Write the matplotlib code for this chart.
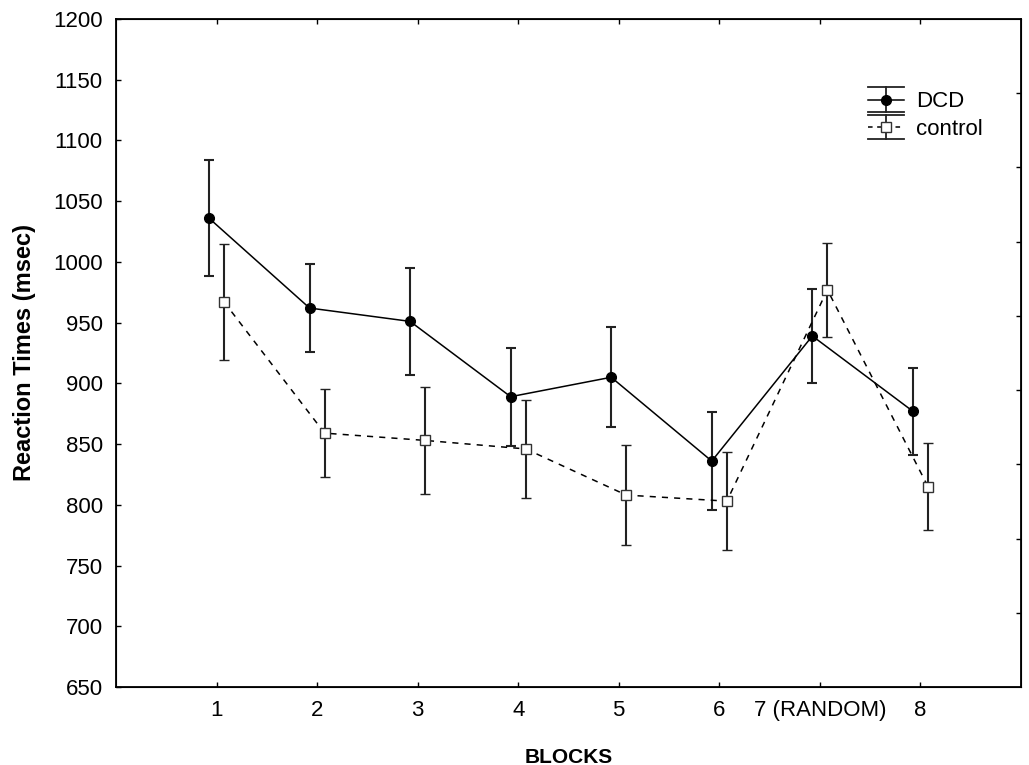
import numpy as np
import matplotlib
matplotlib.use("Agg")
import matplotlib.pyplot as plt
from matplotlib.lines import Line2D
from matplotlib.legend_handler import HandlerBase

plt.rcParams['font.family'] = ['Liberation Sans', 'DejaVu Sans']

# values
blocks = [1, 2, 3, 4, 5, 6, 7, 8]
block_labels = ["1", "2", "3", "4", "5", "6", "7 (RANDOM)", "8"]
dcd_mean = [1036, 962, 951, 889, 905, 836, 939, 877]
dcd_err = [48, 36.5, 44, 40.5, 41, 40.5, 38.5, 36]
control_mean = [967, 859, 853, 846, 808, 803, 977, 815]
control_err = [48, 36.5, 44, 40, 41, 40.5, 38.5, 36]


class ErrorbarKey(HandlerBase):
    # Statistica-like key: wide caps above/below, line + marker in the middle
    def __init__(self, ls, marker, mfc, mec):
        super().__init__()
        self.ls = ls
        self.marker = marker
        self.mfc = mfc
        self.mec = mec

    def create_artists(self, legend, orig_handle, xdescent, ydescent,
                       width, height, fontsize, trans):
        x0 = -xdescent
        x1 = x0 + width
        yc = height / 2 - ydescent
        off = 0.55 * fontsize
        xm = (x0 + x1) / 2
        arts = []
        for yy in (yc - off, yc + off):
            arts.append(Line2D([x0, x1], [yy, yy], color='#222222', lw=1.3))
        arts.append(Line2D([xm, xm], [yc - off, yc + off], color='#222222', lw=1.3))
        arts.append(Line2D([x0, x1], [yc, yc], color='black', lw=1.1, ls=self.ls))
        arts.append(Line2D([xm], [yc], marker=self.marker, ms=7, mfc=self.mfc,
                           mec=self.mec, ls='none'))
        for a in arts:
            a.set_transform(trans)
        return arts


def main():
    fig = plt.figure(figsize=(10.29, 7.65), dpi=100)
    ax = fig.add_axes([0.1127, 0.1020, 0.8795, 0.8732])

    x = np.array(blocks, dtype=float)
    shift = 0.075

    h1 = ax.errorbar(x - shift, dcd_mean, yerr=dcd_err, color='black',
                     ecolor='#222222', elinewidth=1.5, capsize=3.8, capthick=1.5,
                     lw=1.1, ls='-', marker='o', ms=7, mfc='black', mec='black',
                     label='DCD', zorder=3)
    h2 = ax.errorbar(x + shift, control_mean, yerr=control_err, color='black',
                     ecolor='#222222', elinewidth=1.5, capsize=3.8, capthick=1.5,
                     lw=1.1, ls=(0, (4, 4)), marker='s', ms=7, mfc='white',
                     mec='#333333', mew=1.0, label='control', zorder=3)

    ax.set_xlim(0, 9)
    ax.set_ylim(650, 1200)
    ax.set_xticks(blocks)
    ax.set_xticklabels(block_labels)
    ax.set_yticks(np.arange(650, 1201, 50))

    ax.tick_params(direction='in', length=3.4, width=1, labelsize=16,
                   top=True, right=False, pad=9.5)
    for s in ax.spines.values():
        s.set_linewidth(1.3)

    # right side ticks in the reference sit on their own spacing
    ax2 = ax.twinx()
    ax2.set_ylim(650, 1200)
    ax2.set_yticks(np.linspace(711, 1139, 8))
    ax2.tick_params(direction='in', length=3.4, width=1, labelright=False)

    ax.set_xlabel("BLOCKS", fontsize=15, fontweight='bold', labelpad=19)
    ax.set_ylabel("Reaction Times (msec)", fontsize=17, fontweight='bold')
    ax.yaxis.set_label_coords(-0.088, 0.5)

    ax.legend([h1, h2], ['DCD', 'control'], loc='upper left',
              bbox_to_anchor=(0.814, 0.915), frameon=False, fontsize=16,
              handlelength=1.6, handletextpad=0.55, labelspacing=0.3,
              borderpad=0.2,
              handler_map={h1: ErrorbarKey('-', 'o', 'black', 'black'),
                           h2: ErrorbarKey((0, (3, 3)), 's', 'white', '#333333')})

    fig.savefig("out.png", dpi=100)
    plt.close(fig)


if __name__ == "__main__":
    main()
